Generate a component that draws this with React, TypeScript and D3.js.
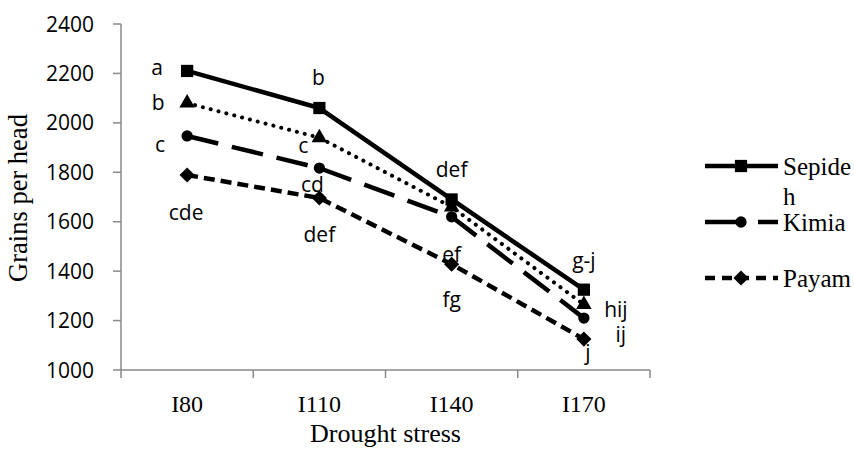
import React from "react";
import * as d3 from "d3";

// ---- Data ----
const categories = ["I80", "I110", "I140", "I170"];
const yTicks = [1000, 1200, 1400, 1600, 1800, 2000, 2200, 2400];

const sepidehValues = [2210, 2060, 1690, 1325];
const triangleValues = [2080, 1940, 1660, 1265];
const kimiaValues = [1947, 1817, 1620, 1210];
const payamValues = [1789, 1696, 1428, 1125];

const sepidehLetters = ["a", "b", "def", "g-j"];
const triangleLetters = ["b", "c", "", "hij"];
const kimiaLetters = ["c", "cd", "ef", "ij"];
const payamLetters = ["cde", "def", "fg", "j"];

// ---- Layout / style ----
const W = 854;
const H = 453;
const PLOT = { left: 121, right: 650, top: 24, bottom: 370 };
const AXIS_COLOR = "#898989";
const SANS = "'Open Sans', sans-serif";
const SERIF = "'Liberation Serif', 'Times New Roman', serif";

type SeriesStyle = {
  name: string;
  values: number[];
  letters: string[];
  letterOffsets: [number, number][];
  dash: string | null;
  cap: "butt" | "round";
  width: number;
  marker: "square" | "triangle" | "circle" | "diamond";
  legend: boolean;
  legendDash: string | null;
};

const series: SeriesStyle[] = [
  {
    name: "Sepideh",
    values: sepidehValues,
    letters: sepidehLetters,
    letterOffsets: [[-30, 4], [-1, -23], [0, -22], [0, -22]],
    dash: null,
    cap: "butt",
    width: 4.5,
    marker: "square",
    legend: true,
    legendDash: null,
  },
  {
    name: "",
    values: triangleValues,
    letters: triangleLetters,
    letterOffsets: [[-29, 7], [-16, 15], [0, 0], [32, 12]],
    dash: "0.1 8",
    cap: "round",
    width: 4,
    marker: "triangle",
    legend: false,
    legendDash: null,
  },
  {
    name: "Kimia",
    values: kimiaValues,
    letters: kimiaLetters,
    letterOffsets: [[-27, 16], [-7, 24], [0, 45], [37, 24]],
    dash: "32 14",
    cap: "butt",
    width: 4.5,
    marker: "circle",
    legend: true,
    legendDash: "41 12 30",
  },
  {
    name: "Payam",
    values: payamValues,
    letters: payamLetters,
    letterOffsets: [[-1, 45], [0, 44], [0, 43], [4, 21]],
    dash: "11 6",
    cap: "butt",
    width: 4.5,
    marker: "diamond",
    legend: true,
    legendDash: "10 7",
  },
];

function markerPath(kind: SeriesStyle["marker"]): string {
  const gen = d3.symbol();
  if (kind === "square") return gen.type(d3.symbolSquare).size(150)() as string;
  if (kind === "circle") return gen.type(d3.symbolCircle).size(100)() as string;
  if (kind === "triangle") return gen.type(d3.symbolTriangle).size(105)() as string;
  return gen.type(d3.symbolSquare).size(115)() as string;
}

export default function App() {
  const x = d3
    .scaleBand<string>()
    .domain(categories)
    .range([PLOT.left, PLOT.right])
    .paddingInner(0)
    .paddingOuter(0);
  const y = d3.scaleLinear().domain([1000, 2400]).range([PLOT.bottom, PLOT.top]);
  const cx = (c: string) => (x(c) as number) + x.bandwidth() / 2;

  const line = d3
    .line<number>()
    .x((_, i) => cx(categories[i]))
    .y((v) => y(v));

  const boundaries = [...categories.map((c) => x(c) as number), PLOT.right];

  const legendItems = series.filter((s) => s.legend);
  const legendYs = [166, 222, 278];

  return (
    <svg
      width={W}
      height={H}
      style={{ position: "fixed", left: 0, top: 0, background: "#fff" }}
      xmlns="http://www.w3.org/2000/svg"
    >
      <rect x={0} y={0} width={W} height={H} fill="#fff" />
      {/* Y axis */}
      <line x1={PLOT.left} x2={PLOT.left} y1={PLOT.top} y2={PLOT.bottom} stroke={AXIS_COLOR} strokeWidth={1.5} />
      {yTicks.map((t) => (
        <g key={t}>
          <line x1={PLOT.left - 8} x2={PLOT.left} y1={y(t)} y2={y(t)} stroke={AXIS_COLOR} strokeWidth={1.5} />
          <text
            x={94}
            y={y(t)}
            dy="0.36em"
            textAnchor="end"
            fontFamily={SANS}
            fontSize={21}
            fill="#000"
          >
            {t}
          </text>
        </g>
      ))}
      {/* X axis */}
      <line x1={PLOT.left} x2={PLOT.right} y1={PLOT.bottom} y2={PLOT.bottom} stroke={AXIS_COLOR} strokeWidth={1.5} />
      {boundaries.map((b, i) => (
        <line key={i} x1={b} x2={b} y1={PLOT.bottom} y2={PLOT.bottom + 8} stroke={AXIS_COLOR} strokeWidth={1.5} />
      ))}
      {categories.map((c) => (
        <text key={c} x={cx(c)} y={412} textAnchor="middle" fontFamily={SERIF} fontSize={24} fill="#000">
          {c}
        </text>
      ))}
      <text
        x={(PLOT.left + PLOT.right) / 2}
        y={442}
        textAnchor="middle"
        fontFamily={SERIF}
        fontSize={26}
        fill="#000"
      >
        Drought stress
      </text>
      <text
        transform={`translate(27, ${(PLOT.top + PLOT.bottom) / 2 + 1}) rotate(-90)`}
        textAnchor="middle"
        fontFamily={SERIF}
        fontSize={26.5}
        fill="#000"
      >
        Grains per head
      </text>

      {/* Series lines */}
      {series.map((s, si) => (
        <path
          key={"l" + si}
          d={line(s.values) as string}
          fill="none"
          stroke="#000"
          strokeWidth={s.width}
          strokeDasharray={s.dash ?? undefined}
          strokeLinecap={s.cap}
          strokeLinejoin="round"
        />
      ))}
      {/* Markers */}
      {series.map((s, si) =>
        s.values.map((v, i) => (
          <path
            key={`m${si}-${i}`}
            d={markerPath(s.marker)}
            transform={`translate(${cx(categories[i])},${y(v)})${s.marker === "diamond" ? " rotate(45)" : ""}`}
            fill="#000"
          />
        ))
      )}
      {/* Letter annotations */}
      {series.map((s, si) =>
        s.letters.map((l, i) =>
          l ? (
            <text
              key={`t${si}-${i}`}
              x={cx(categories[i]) + s.letterOffsets[i][0]}
              y={y(s.values[i]) + s.letterOffsets[i][1]}
              textAnchor="middle"
              fontFamily={SANS}
              fontSize={21}
              fill="#000"
            >
              {l}
            </text>
          ) : null
        )
      )}

      {/* Legend */}
      {legendItems.map((s, i) => {
        const ly = legendYs[i];
        const lines = s.name.length > 6 ? [s.name.slice(0, 6), s.name.slice(6)] : [s.name];
        return (
          <g key={"lg" + i}>
            <line
              x1={705}
              x2={778}
              y1={ly}
              y2={ly}
              stroke="#000"
              strokeWidth={s.width}
              strokeDasharray={s.legendDash ?? undefined}
            />
            <path
              d={markerPath(s.marker)}
              transform={`translate(741,${ly})${s.marker === "diamond" ? " rotate(45)" : ""}`}
              fill="#000"
            />
            <text x={783} y={ly + 9} fontFamily={SERIF} fontSize={25} fill="#000">
              {lines.map((t, k) => (
                <tspan key={k} x={783} dy={k === 0 ? 0 : 30} fontFamily={SERIF}>
                  {t}
                </tspan>
              ))}
            </text>
          </g>
        );
      })}
    </svg>
  );
}
